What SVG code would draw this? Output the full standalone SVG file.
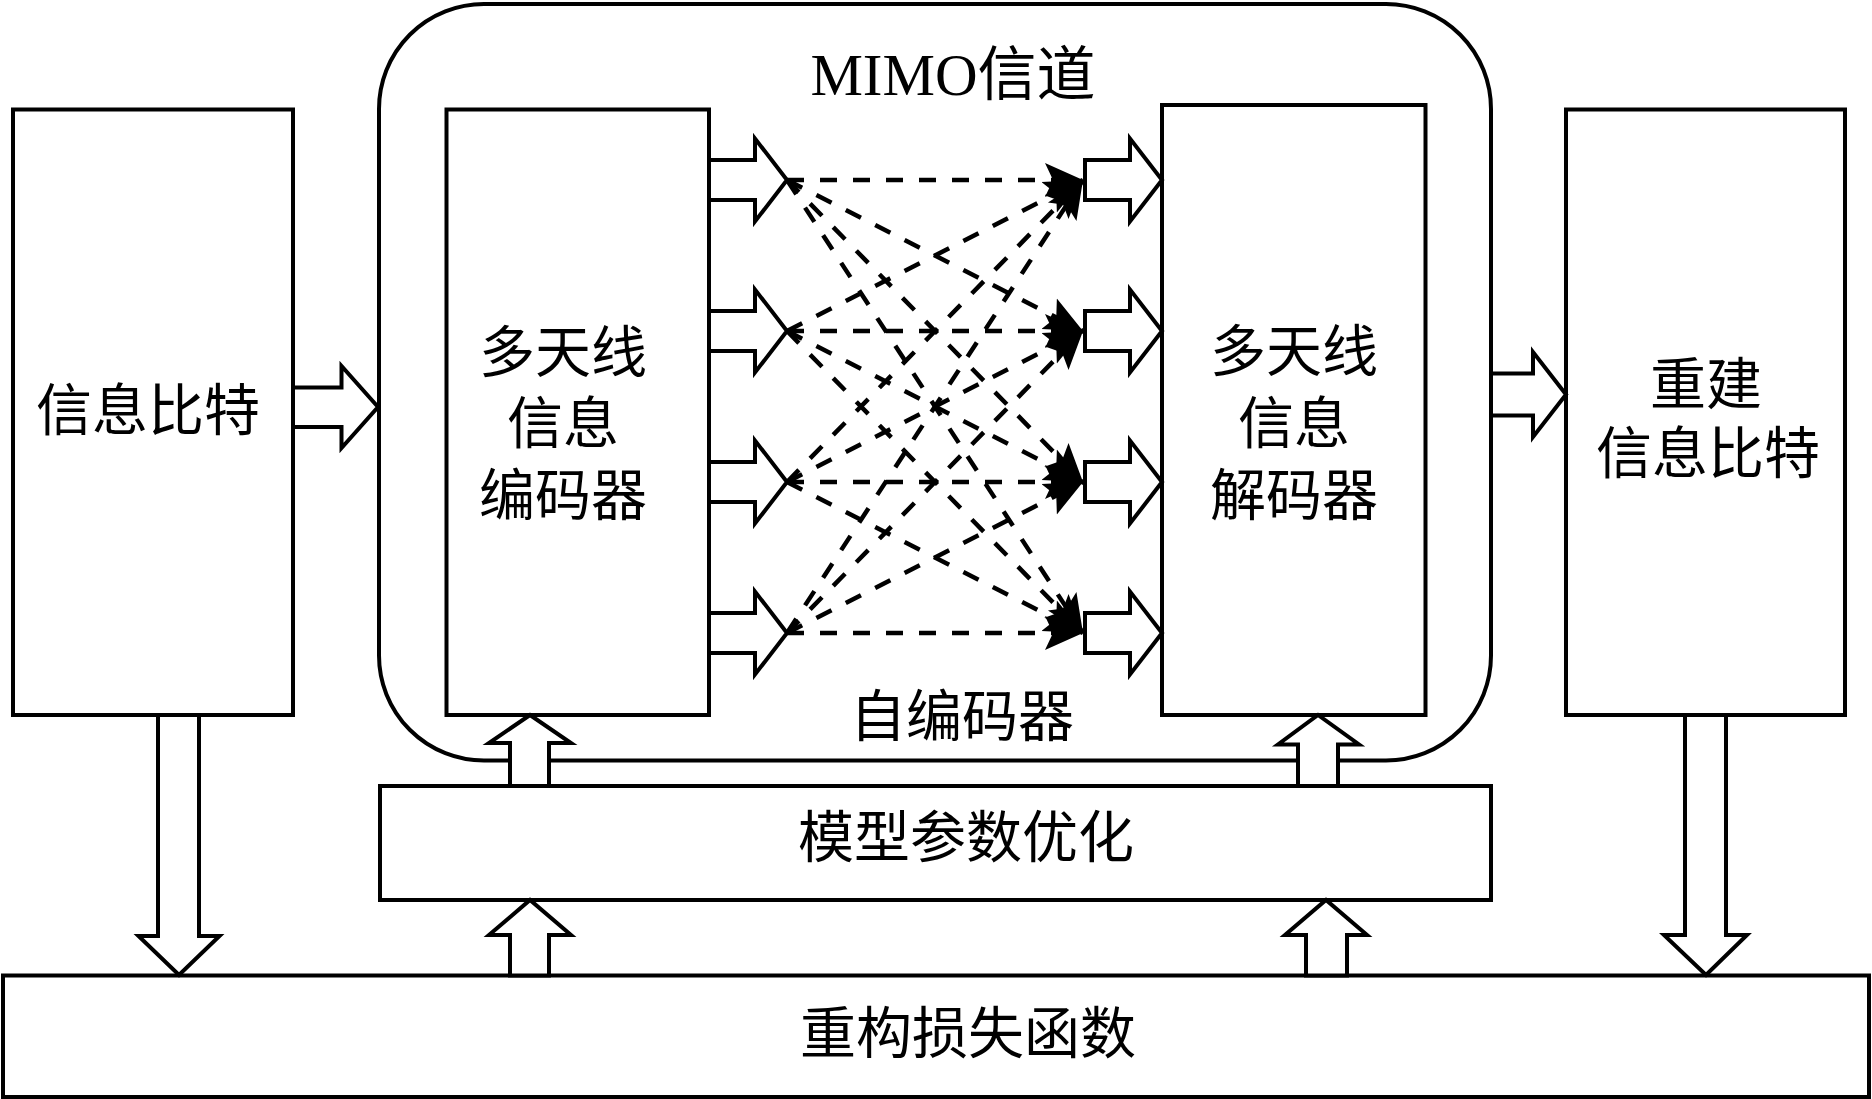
<svg xmlns="http://www.w3.org/2000/svg" width="1872" height="1099" viewBox="0 0 1872 1099">
<style>
.box{fill:#fff;stroke:#000;stroke-width:4}
.blk{fill:#fff;stroke:#000;stroke-width:4;stroke-linejoin:miter}
.dash{fill:none;stroke:#000;stroke-width:4.5;stroke-dasharray:17 16;marker-end:url(#ah)}
text{font-family:"Liberation Serif","Noto Sans CJK SC",serif;font-size:56px;fill:#000;text-anchor:middle}
.c{dominant-baseline:central}
</style>
<defs>
<marker id="ah" markerUnits="userSpaceOnUse" markerWidth="44" markerHeight="40" refX="38" refY="19" orient="auto">
<path d="M0,2 L38,19 L0,36 L8,19 z" fill="#000"/>
</marker>
</defs>
<rect width="1872" height="1099" fill="#fff"/>

<g id="autoencoder">
<rect class="box" x="379" y="4" width="1112" height="756.5" rx="105" ry="105"/>
<text x="953" y="95" style="font-size:59px">MIMO信道</text>
<text class="c" x="962" y="717">自编码器</text>
</g>

<g id="input-bits">
<rect class="box" x="13" y="109.5" width="280" height="605.5"/>
<text class="c" x="148" y="411">信息比特</text>
</g>

<g id="encoder">
<rect class="box" x="446.5" y="109.5" width="262.5" height="605.5"/>
<text class="c" x="563" y="353">多天线</text>
<text class="c" x="563" y="424">信息</text>
<text class="c" x="563" y="496">编码器</text>
</g>

<g id="decoder">
<rect class="box" x="1162" y="105" width="263.5" height="610"/>
<text class="c" x="1294" y="352">多天线</text>
<text class="c" x="1294" y="424">信息</text>
<text class="c" x="1294" y="496">解码器</text>
</g>

<g id="output-bits">
<rect class="box" x="1566" y="109.5" width="279" height="605.5"/>
<text class="c" x="1706" y="385">重建</text>
<text class="c" x="1708" y="454">信息比特</text>
</g>

<g id="optimizer">
<rect class="box" x="380" y="786" width="1111" height="114"/>
<text class="c" x="966" y="838">模型参数优化</text>
</g>

<g id="loss">
<rect class="box" x="3" y="975.5" width="1866" height="121.5"/>
<text class="c" x="968" y="1034">重构损失函数</text>
</g>

<g id="connectors">
<g id="channel-links">
<line class="dash" x1="787" y1="180" x2="1083" y2="180"/>
<line class="dash" x1="787" y1="180" x2="1083" y2="331"/>
<line class="dash" x1="787" y1="180" x2="1083" y2="482"/>
<line class="dash" x1="787" y1="180" x2="1083" y2="633"/>
<line class="dash" x1="787" y1="331" x2="1083" y2="180"/>
<line class="dash" x1="787" y1="331" x2="1083" y2="331"/>
<line class="dash" x1="787" y1="331" x2="1083" y2="482"/>
<line class="dash" x1="787" y1="331" x2="1083" y2="633"/>
<line class="dash" x1="787" y1="482" x2="1083" y2="180"/>
<line class="dash" x1="787" y1="482" x2="1083" y2="331"/>
<line class="dash" x1="787" y1="482" x2="1083" y2="482"/>
<line class="dash" x1="787" y1="482" x2="1083" y2="633"/>
<line class="dash" x1="787" y1="633" x2="1083" y2="180"/>
<line class="dash" x1="787" y1="633" x2="1083" y2="331"/>
<line class="dash" x1="787" y1="633" x2="1083" y2="482"/>
<line class="dash" x1="787" y1="633" x2="1083" y2="633"/>
</g>
<polygon class="blk" points="293,387.5 341.5,387.5 341.5,366 378,407 341.5,448 341.5,427 293,427"/>
<polygon class="blk" points="1491,373.5 1533,373.5 1533,352 1566,394.5 1533,437 1533,415.5 1491,415.5"/>
<polygon class="blk" points="709,160 755,160 755,138.5 787,180 755,221.5 755,200 709,200"/>
<polygon class="blk" points="709,311 755,311 755,289.5 787,331 755,372.5 755,351 709,351"/>
<polygon class="blk" points="709,462 755,462 755,440.5 787,482 755,523.5 755,502 709,502"/>
<polygon class="blk" points="709,613 755,613 755,591.5 787,633 755,674.5 755,653 709,653"/>
<polygon class="blk" points="1085,160 1130,160 1130,138.5 1162,180 1130,221.5 1130,200 1085,200"/>
<polygon class="blk" points="1085,311 1130,311 1130,289.5 1162,331 1130,372.5 1130,351 1085,351"/>
<polygon class="blk" points="1085,462 1130,462 1130,440.5 1162,482 1130,523.5 1130,502 1085,502"/>
<polygon class="blk" points="1085,613 1130,613 1130,591.5 1162,633 1130,674.5 1130,653 1085,653"/>
<polygon class="blk" points="158,715 199,715 199,936 219.5,936 179,975 138.5,936 158,936"/>
<polygon class="blk" points="1685,715 1726,715 1726,935 1747,935 1706,975 1664,935 1685,935"/>
<polygon class="blk" points="510,786 510,743 489,743 530,715 571,743 549,743 549,786"/>
<polygon class="blk" points="1298,786 1298,744.5 1278,744.5 1318,715 1359,744.5 1338,744.5 1338,786"/>
<polygon class="blk" points="510,975.5 510,935 489,935 530,900 571,935 549,935 549,975.5"/>
<polygon class="blk" points="1306,975.5 1306,935 1285,935 1326,900 1367,935 1347,935 1347,975.5"/>
</g>
</svg>
